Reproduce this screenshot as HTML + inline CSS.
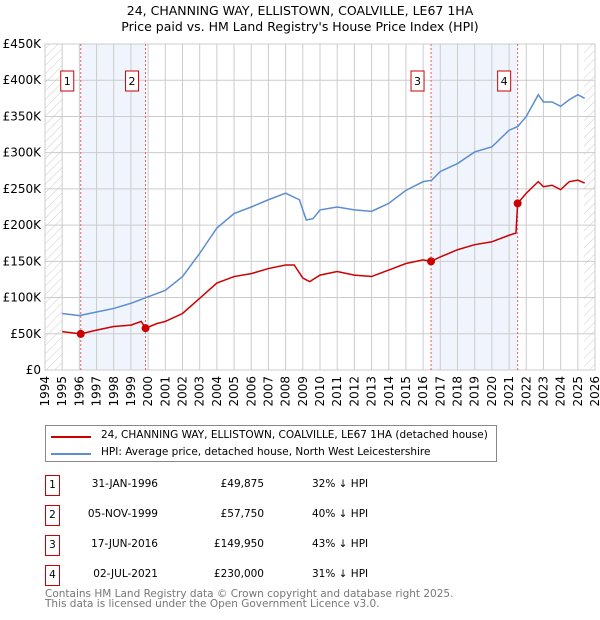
<!DOCTYPE html>
<html><head><meta charset="utf-8"><style>
body{margin:0;background:#fff;font-family:"DejaVu Sans","Liberation Sans",sans-serif;}
#wrap{position:relative;width:600px;height:620px;overflow:hidden}
.t{position:absolute;font-size:10.5px;color:#000;white-space:nowrap}
.box{position:absolute;border:1px solid #c00;width:13px;height:19px;font-size:10.5px;text-align:center;line-height:19px}
</style></head><body><div id="wrap">
<div class="t" style="left:0;width:600px;text-align:center;top:3px;font-size:12.5px;line-height:16px">24, CHANNING WAY, ELLISTOWN, COALVILLE, LE67 1HA<br>Price paid vs. HM Land Registry's House Price Index (HPI)</div>
<svg id="chart" width="600" height="420" style="position:absolute;left:0;top:0" font-family="DejaVu Sans, Liberation Sans, sans-serif" font-size="12"></svg>
<div style="position:absolute;left:45px;top:425px;width:450px;height:35px;border:1px solid #888">
<div><div style="position:absolute;left:5px;top:10px;width:40px;height:2px;background:#c00"></div><div class="t" style="left:55px;top:3px">24, CHANNING WAY, ELLISTOWN, COALVILLE, LE67 1HA (detached house)</div></div>
<div><div style="position:absolute;left:5px;top:27px;width:40px;height:2px;background:#5b8dd0"></div><div class="t" style="left:55px;top:20px">HPI: Average price, detached house, North West Leicestershire</div></div>
</div>
<div id="tbl"></div>
<div class="t" style="left:45px;top:589px;color:#777;font-size:10.5px;line-height:10px">Contains HM Land Registry data © Crown copyright and database right 2025.<br>This data is licensed under the Open Government Licence v3.0.</div>
</div>
<script>
const hpiYears=[1995,1996,1997,1998,1999,2000,2001,2002,2003,2004,2005,2006,2007,2008,2008.8,2009.2,2009.6,2010,2011,2012,2013,2014,2015,2016,2016.5,2017,2018,2019,2020,2021,2021.5,2022,2022.7,2023,2023.5,2024,2024.5,2025,2025.4];
const hpiValues=[78,75,80,85,92,101,110,129,161,196,216,225,235,244,235,207,209,221,225,221,219,230,248,260,262,274,285,301,308,331,336,350,380,370,370,364,373,380,375];
const ppYears=[1995,1996.08,1997,1998,1999,1999.6,1999.85,2000.5,2001,2002,2003,2004,2005,2006,2007,2008,2008.5,2009,2009.4,2010,2011,2012,2013,2014,2015,2016,2016.46,2017,2018,2019,2020,2021,2021.4,2021.5,2022,2022.7,2023,2023.5,2024,2024.5,2025,2025.4];
const ppValues=[53,49.875,55,60,62,67,57.75,64,67,78,99,120,129,133,140,145,145,127,122,131,136,131,129,138,147,152,149.95,156,166,173,177,186,189,230,244,260,253,255,249,260,262,258];
const saleYears=[1996.08,1999.85,2016.46,2021.5];
const saleValues=[49.875,57.75,149.95,230];
const saleLabels=["1","2","3","4"];
const saleDates=["31-JAN-1996","05-NOV-1999","17-JUN-2016","02-JUL-2021"];
const salePrices=["£49,875","£57,750","£149,950","£230,000"];
const saleDiffs=["32% ↓ HPI","40% ↓ HPI","43% ↓ HPI","31% ↓ HPI"];
const yTicks=[0,50,100,150,200,250,300,350,400,450];
const yTickLabels=["£0","£50K","£100K","£150K","£200K","£250K","£300K","£350K","£400K","£450K"];
const xTicks=[1994,1995,1996,1997,1998,1999,2000,2001,2002,2003,2004,2005,2006,2007,2008,2009,2010,2011,2012,2013,2014,2015,2016,2017,2018,2019,2020,2021,2022,2023,2024,2025,2026];
const X0=45,X1=595,Y0=370,Y1=44;
const xs=y=>X0+(y-1994)/32*(X1-X0);
const ys=v=>Y0-v/450*(Y0-Y1);
const svg=document.getElementById('chart');const NS='http://www.w3.org/2000/svg';
function mk(t,a,p){const e=document.createElementNS(NS,t);for(const k in a)e.setAttribute(k,a[k]);(p||svg).appendChild(e);return e;}
const defs=mk('defs',{});
const pat=mk('pattern',{id:'hatch',width:6,height:6,patternUnits:'userSpaceOnUse',patternTransform:'rotate(45)'},defs);
mk('line',{x1:0,y1:0,x2:0,y2:6,stroke:'#ccc','stroke-width':1},pat);
let r=mk('rect',{x:X0,y:Y1,width:xs(1995)-X0,height:Y0-Y1,fill:'url(#hatch)'});

r=mk('rect',{x:xs(2025.35),y:Y1,width:X1-xs(2025.35),height:Y0-Y1,fill:'url(#hatch)'});

for(const [a,b] of [[0,1],[2,3]]){r=mk('rect',{x:xs(saleYears[a]),y:Y1,width:xs(saleYears[b])-xs(saleYears[a]),height:Y0-Y1,fill:'#f0f4fd'});
}
xTicks.forEach(t=>{let l=mk('line',{x1:xs(t),x2:xs(t),y1:Y1,y2:Y0,stroke:'#ccc'});

const x=xs(t),tx=mk('text',{x:x+4,y:Y0+6,transform:`rotate(-90 ${x+4} ${Y0+6})`,'text-anchor':'end'});tx.textContent=t;
});
yTicks.forEach((t,i)=>{let l=mk('line',{x1:X0,x2:X1,y1:ys(t),y2:ys(t),stroke:'#ccc'});

const tx=mk('text',{x:X0-4,y:ys(t)+4,'text-anchor':'end'});tx.textContent=yTickLabels[i];
});
r=mk('rect',{x:X0,y:Y1,width:X1-X0,height:Y0-Y1,fill:'none',stroke:'#ccc'});

saleYears.forEach((y,i)=>{let l=mk('line',{x1:xs(y),x2:xs(y),y1:Y1,y2:Y0,stroke:'#e06060','stroke-dasharray':'2,2'});

const g=mk('g',{});
mk('rect',{x:xs(y)-20,y:71,width:13,height:20,fill:'#fff',stroke:'#c00'},g);
const tx=mk('text',{x:xs(y)-13.5,y:85,'text-anchor':'middle','font-size':11},g);tx.textContent=saleLabels[i];});
let p=mk('polyline',{points:hpiYears.map((y,i)=>xs(y)+','+ys(hpiValues[i])).join(' '),fill:'none',stroke:'#5b8dd0','stroke-width':1.5});

p=mk('polyline',{points:ppYears.map((y,i)=>xs(y)+','+ys(ppValues[i])).join(' '),fill:'none',stroke:'#c00','stroke-width':1.5});

saleYears.forEach((y,i)=>{const c=mk('circle',{cx:xs(y),cy:ys(saleValues[i]),r:4,fill:'#c00'});
});
const tbl=document.getElementById('tbl');
saleLabels.forEach((l,i)=>{const top=475+i*30;const row=document.createElement('div');

row.innerHTML=`<div class="box" style="left:45px;top:${top}px">${l}</div><div class="t" style="left:60px;width:98px;text-align:right;top:${top+3}px">${saleDates[i]}</div><div class="t" style="left:180px;width:84px;text-align:right;top:${top+3}px">${salePrices[i]}</div><div class="t" style="left:312px;top:${top+3}px">${saleDiffs[i]}</div>`;
tbl.appendChild(row);});
</script></body></html>
